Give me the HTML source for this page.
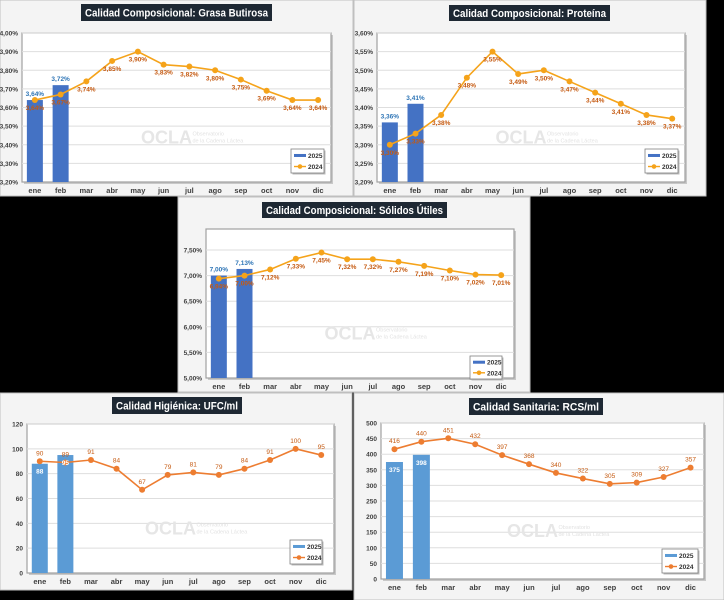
<!DOCTYPE html>
<html><head><meta charset="utf-8">
<style>
html,body{margin:0;padding:0;background:#000;}
body{width:724px;height:600px;position:relative;overflow:hidden;font-family:"Liberation Sans",sans-serif;}
svg{position:absolute;left:0;top:0;}
</style></head>
<body>
<svg id="chart" width="724" height="600" viewBox="0 0 724 600" xmlns="http://www.w3.org/2000/svg"></svg>
<script>
const months = ["ene","feb","mar","abr","may","jun","jul","ago","sep","oct","nov","dic"];
const grasa2024 = [3.64,3.67,3.74,3.85,3.90,3.83,3.82,3.80,3.75,3.69,3.64,3.64];
const grasa2025 = [3.64,3.72];
const grasaTicks = [3.20,3.30,3.40,3.50,3.60,3.70,3.80,3.90,4.00];
const prot2024 = [3.30,3.33,3.38,3.48,3.55,3.49,3.50,3.47,3.44,3.41,3.38,3.37];
const prot2025 = [3.36,3.41];
const protTicks = [3.20,3.25,3.30,3.35,3.40,3.45,3.50,3.55,3.60];
const sol2024 = [6.94,7.00,7.12,7.33,7.45,7.32,7.32,7.27,7.19,7.10,7.02,7.01];
const sol2025 = [7.00,7.13];
const solTicks = [5.00,5.50,6.00,6.50,7.00,7.50];
const ufc2024 = [90,89,91,84,67,79,81,79,84,91,100,95];
const ufc2025 = [88,95];
const ufcTicks = [0,20,40,60,80,100,120];
const rcs2024 = [416,440,451,432,397,368,340,322,305,309,327,357];
const rcs2025 = [375,398];
const rcsTicks = [0,50,100,150,200,250,300,350,400,450,500];

const NS = "http://www.w3.org/2000/svg";
const svg = document.getElementById('chart');
function mk(tag, attrs, parent, text){
  const e = document.createElementNS(NS, tag);
  for (const k in attrs) e.setAttribute(k, attrs[k]);
  if (text !== undefined) e.textContent = text;
  (parent || svg).appendChild(e);
  return e;
}

function panel(cfg){
  const g = mk('g', {});
  
  
  const bg = mk('rect', {x:cfg.px, y:cfg.py, width:cfg.pw, height:cfg.ph, fill:'#f4f4f4', stroke:'#bfbfbf', 'stroke-width':1}, g);
  
  
  const tt = mk('rect', {x:cfg.tx, y:cfg.ty, width:cfg.tw, height:cfg.th, fill:'#1e2833'}, g);
  
  
  const title = mk('text', {x:cfg.tx+4, y:cfg.ty+cfg.th/2+4, 'font-size':11, 'font-weight':'bold', fill:'#fff', textLength:cfg.tw-8, lengthAdjust:'spacingAndGlyphs'}, g, cfg.title);
  
  
  const L=cfg.x0, R=cfg.x1, T=cfg.y0, B=cfg.y1;
  mk('rect', {x:L+2, y:T+2, width:R-L, height:B-T, fill:'#c8c8c8'}, g);
  const pa = mk('rect', {x:L, y:T, width:R-L, height:B-T, fill:'#fff', stroke:'#a0a0a0', 'stroke-width':1.2}, g);
  
  
  const ymin = cfg.ticks[0];
  const yS = v => cfg.yb - (v - ymin) / (cfg.tickRef - ymin) * (cfg.yb - cfg.yt);
  const step = (R-L)/12;
  const xS = i => L + step*(i+0.5);
  cfg.ticks.forEach(t => {
    const y = yS(t);
    if (t !== ymin) {
      const gl = mk('line', {x1:L, x2:R, y1:y, y2:y, stroke:'#dedede', 'stroke-width':1}, g);
      
      
    }
    const lbl = mk('text', {x:L-4, y:y+2.5, 'text-anchor':'end', 'font-size':6.5, 'font-weight':'bold', fill:'#404040'}, g, cfg.fmtTick(t));
    
    
  });
  months.forEach((m,i) => {
    const xl = mk('text', {x:xS(i), y:B+11, 'text-anchor':'middle', 'font-size':7.5, 'font-weight':'bold', fill:'#404040'}, g, m);
    
    
  });
  const wm = mk('text', {x:(L+R)/2-10, y:(T+B)/2+36, 'text-anchor':'middle', 'font-size':18, 'font-weight':'bold', fill:'#e6e6e6'}, g, 'OCLA');
  
  
  const wm2 = mk('text', {x:(L+R)/2+16, y:(T+B)/2+28, 'font-size':5.5, fill:'#e2e2e2'}, g, 'Observatorio');
  
  
  const wm3 = mk('text', {x:(L+R)/2+16, y:(T+B)/2+35, 'font-size':5.5, fill:'#e2e2e2'}, g, 'de la Cadena Láctea');
  
  
  cfg.bars.forEach((v,i) => {
    const y = yS(v);
    const b = mk('rect', {x:xS(i)-cfg.bw/2, y:y, width:cfg.bw, height:cfg.yb-y, fill:cfg.barColor}, g);
    
    
  });
  const pts = cfg.line.map((v,i) => xS(i)+','+yS(v)).join(' ');
  const pl = mk('polyline', {points:pts, fill:'none', stroke:cfg.lineColor, 'stroke-width':1.6}, g);
  
  
  cfg.line.forEach((v,i) => {
    const c = mk('circle', {cx:xS(i), cy:yS(v), r:3, fill:cfg.lineColor}, g);
    
    
    const ly = cfg.lineLabelAbove ? yS(v)-6 : yS(v)+10;
    const lt = mk('text', {x:xS(i), y:ly, 'text-anchor':'middle', 'font-size':6.5, 'font-weight':cfg.lineLabelAbove?'normal':'bold', fill:cfg.lineLabelColor}, g, cfg.fmtVal(v));
    
    
  });
  cfg.bars.forEach((v,i) => {
    const inside = cfg.barLabelInside;
    const lt = mk('text', {x:xS(i), y: inside ? yS(v)+10 : yS(v)-4, 'text-anchor':'middle', 'font-size':6.5, 'font-weight':'bold', fill: inside ? '#fff' : '#2e75b6'}, g, cfg.fmtVal(v));
    
    
  });
  const lg = mk('g', {}, g);
  
  
  const [lx,ly,lw,lh] = cfg.legend;
  mk('rect', {x:lx+1.5, y:ly+1.5, width:lw, height:lh, fill:'#bbb'}, lg);
  mk('rect', {x:lx, y:ly, width:lw, height:lh, fill:'#fff', stroke:'#808080', 'stroke-width':0.8}, lg);
  const e1 = mk('rect', {x:lx+3, y:ly+lh*0.27-1.5, width:12, height:3, fill:cfg.barColor}, lg);
  
  
  const t1 = mk('text', {x:lx+17, y:ly+lh*0.27+2.5, 'font-size':6.5, 'font-weight':'bold', fill:'#333'}, lg, '2025');
  
  
  mk('line', {x1:lx+3, x2:lx+15, y1:ly+lh*0.73, y2:ly+lh*0.73, stroke:cfg.lineColor, 'stroke-width':1.4}, lg);
  mk('circle', {cx:lx+9, cy:ly+lh*0.73, r:2.3, fill:cfg.lineColor}, lg);
  const t2 = mk('text', {x:lx+17, y:ly+lh*0.73+2.5, 'font-size':6.5, 'font-weight':'bold', fill:'#333'}, lg, '2024');
  
  
}

const pct = v => v.toFixed(2).replace('.', ',') + '%';
const int = v => String(v);

panel({name:'chart-grasa-butirosa', title:'Calidad Composicional: Grasa Butirosa',
  px:0, py:0, pw:353, ph:196, tx:81, ty:4, tw:191, th:17,
  x0:22, x1:331, y0:33, y1:182, yt:33, yb:182, tickRef:4.00, ticks:grasaTicks,
  bars:grasa2025, line:grasa2024, bw:16, barColor:'#4472c4', lineColor:'#f5a31a', lineLabelColor:'#c55a11',
  lineLabelAbove:false, barLabelInside:false, fmtTick:pct, fmtVal:pct, legend:[291,149,33,24]});

panel({name:'chart-proteina', title:'Calidad Composicional: Proteína',
  px:354, py:0, pw:352, ph:196, tx:449, ty:5, tw:161, th:16,
  x0:377, x1:685, y0:33, y1:182, yt:33, yb:182, tickRef:3.60, ticks:protTicks,
  bars:prot2025, line:prot2024, bw:16, barColor:'#4472c4', lineColor:'#f5a31a', lineLabelColor:'#c55a11',
  lineLabelAbove:false, barLabelInside:false, fmtTick:pct, fmtVal:pct, legend:[645,149,33,24]});

panel({name:'chart-solidos-utiles', title:'Calidad Composicional: Sólidos Útiles',
  px:178, py:197, pw:352, ph:195, tx:262, ty:202, tw:185, th:16,
  x0:206, x1:514, y0:229, y1:378, yt:250, yb:378, tickRef:7.50, ticks:solTicks,
  bars:sol2025, line:sol2024, bw:16, barColor:'#4472c4', lineColor:'#f5a31a', lineLabelColor:'#c55a11',
  lineLabelAbove:false, barLabelInside:false, fmtTick:pct, fmtVal:pct, legend:[470,356,32,23]});

panel({name:'chart-ufc', title:'Calidad Higiénica: UFC/ml',
  px:0, py:393, pw:352, ph:197, tx:112, ty:397, tw:130, th:17,
  x0:27, x1:334, y0:424, y1:573, yt:424, yb:573, tickRef:120, ticks:ufcTicks,
  bars:ufc2025, line:ufc2024, bw:16, barColor:'#5b9bd5', lineColor:'#ed7d31', lineLabelColor:'#c55a11',
  lineLabelAbove:true, barLabelInside:true, fmtTick:int, fmtVal:int, legend:[290,540,32,24]});

panel({name:'chart-rcs', title:'Calidad Sanitaria: RCS/ml',
  px:354, py:393, pw:370, ph:207, tx:469, ty:398, tw:134, th:17,
  x0:381, x1:704, y0:423, y1:579, yt:423, yb:579, tickRef:500, ticks:rcsTicks,
  bars:rcs2025, line:rcs2024, bw:17, barColor:'#5b9bd5', lineColor:'#ed7d31', lineLabelColor:'#c55a11',
  lineLabelAbove:true, barLabelInside:true, fmtTick:int, fmtVal:int, legend:[662,549,36,24]});
</script>
</body></html>
